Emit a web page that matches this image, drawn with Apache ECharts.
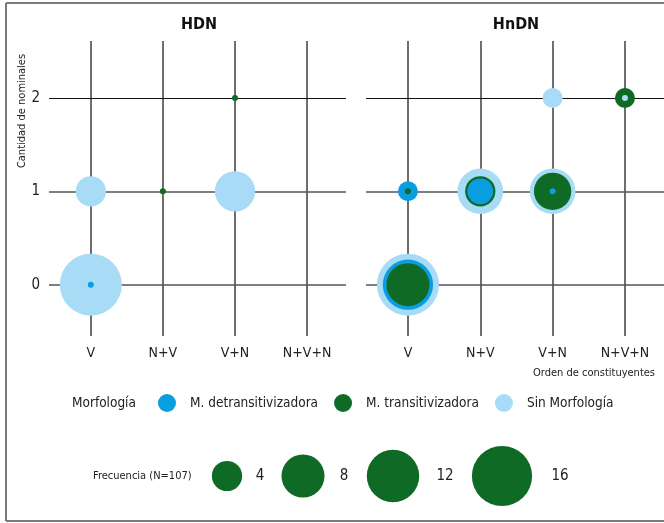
<!DOCTYPE html>
<html>
<head>
<meta charset="utf-8">
<script src="https://cdn.jsdelivr.net/npm/echarts@6/dist/echarts.min.js"></script>
<style>
html, body { margin: 0; padding: 0; background: #fff; }
#main { width: 664px; height: 523px; }
</style>
</head>
<body>
<div id="main"></div>
<script>
// categorias y datos
var categories = ['V', 'N+V', 'V+N', 'N+V+N'];
var yTicks = [0, 1, 2];
var panels = ['HDN', 'HnDN'];
var morphNames = ['M. detransitivizadora', 'M. transitivizadora', 'Sin Morfología'];
// [orden, cantidad de nominales, frecuencia]
var hdnDetrans = [[0, 0, 1]];
var hdnTrans = [[1, 1, 1], [2, 2, 1]];
var hdnSin = [[0, 0, 17], [0, 1, 4], [2, 1, 7]];
var hndnDetrans = [[0, 0, 11], [0, 1, 2], [1, 1, 3], [2, 1, 1]];
var hndnTrans = [[0, 0, 8], [0, 1, 1], [1, 1, 4], [2, 1, 6], [3, 2, 2]];
var hndnSin = [[0, 0, 17], [1, 1, 9], [2, 1, 9], [2, 2, 2], [3, 2, 1]];
var sizeLegend = [4, 8, 12, 16];
var totalN = 107;

var FONT = "'Liberation Sans Narrow', 'DejaVu Sans Condensed', 'Roboto', sans-serif";
var colors = ['#0a9ee0', '#0e6a24', '#a7dbf6'];
var TXT = '#222';

function bubble(v) {
    return 6 + 56 * Math.sqrt(Math.max(v - 1, 0) / 16);
}

// junta las tres morfologias y ordena de mayor a menor (los chicos quedan arriba)
function buildData(groups) {
    var out = [];
    groups.forEach(function (g, k) {
        g.forEach(function (d) {
            out.push({ value: d, itemStyle: { color: colors[k], opacity: 1 } });
        });
    });
    out.sort(function (a, b) { return b.value[2] - a.value[2]; });
    return out;
}

var chart = echarts.init(document.getElementById('main'));

var grids = [
    { left: 49, top: 41, width: 297, height: 295 },
    { left: 366, top: 41, width: 298, height: 295 }
];

var xAxes = [0, 1].map(function (i) {
    return {
        type: 'value', gridIndex: i, min: -0.58, max: 3.54,
        axisLine: { show: false }, axisTick: { show: false }, splitLine: { show: false },
        axisLabel: {
            margin: 10, fontSize: 14, color: TXT, fontFamily: FONT,
            showMinLabel: false, showMaxLabel: false,
            formatter: function (v) { return Number.isInteger(v) && categories[v] ? categories[v] : ''; }
        }
    };
});
var yAxes = [0, 1].map(function (i) {
    return {
        type: 'value', gridIndex: i, min: -0.55, max: 2.61,
        axisLine: { show: false }, axisTick: { show: false }, splitLine: { show: false },
        axisLabel: {
            show: i === 0, margin: 9, fontSize: 15, color: TXT, fontFamily: FONT,
            showMinLabel: false, showMaxLabel: false,
            formatter: function (v) { return yTicks.indexOf(v) >= 0 ? String(v) : ''; }
        }
    };
});

var series = [];
[0, 1].forEach(function (i) {
    series.push({
        type: 'scatter', xAxisIndex: i, yAxisIndex: i, data: [], silent: true, z: 1,
        markLine: {
            z: 1, silent: true, symbol: 'none', label: { show: false },
            data: categories.map(function (c, k) {
                return { xAxis: k, lineStyle: { color: '#6e6e6e', width: 2, type: 'solid' } };
            }).concat(yTicks.map(function (t) {
                return { yAxis: t, lineStyle: { color: t === 2 ? '#111' : '#555', width: t === 2 ? 1.2 : 1.6, type: 'solid' } };
            }))
        }
    });
});
series.push({
    type: 'scatter', xAxisIndex: 0, yAxisIndex: 0, z: 6,
    symbolSize: function (v) { return bubble(v[2]); },
    data: buildData([hdnDetrans, hdnTrans, hdnSin])
});
series.push({
    type: 'scatter', xAxisIndex: 1, yAxisIndex: 1, z: 6,
    symbolSize: function (v) { return bubble(v[2]); },
    data: buildData([hndnDetrans, hndnTrans, hndnSin])
});
// series vacias solo para la leyenda
morphNames.forEach(function (n, k) {
    series.push({ type: 'scatter', name: n, xAxisIndex: 0, yAxisIndex: 0, data: [], itemStyle: { color: colors[k], opacity: 1 } });
});

// leyenda de tamaños
var sizeCenters = [227, 303, 393, 502];
var sizeLabelX = [260, 344, 445, 560];
var graphics = [
    { type: 'line', shape: { x1: 6, y1: 3, x2: 664, y2: 3 }, style: { stroke: '#7a7a7a', lineWidth: 2 } },
    { type: 'line', shape: { x1: 6, y1: 3, x2: 6, y2: 521 }, style: { stroke: '#7a7a7a', lineWidth: 2 } },
    { type: 'line', shape: { x1: 6, y1: 521, x2: 664, y2: 521 }, style: { stroke: '#7a7a7a', lineWidth: 2 } },
    { type: 'text', x: 199, y: 25, style: { text: panels[0], font: 'bold 16px ' + FONT, fill: '#111', align: 'center', verticalAlign: 'middle' } },
    { type: 'text', x: 516, y: 25, style: { text: panels[1], font: 'bold 16px ' + FONT, fill: '#111', align: 'center', verticalAlign: 'middle' } },
    { type: 'text', x: 22, y: 111, rotation: Math.PI / 2, style: { text: 'Cantidad de nominales', font: '11px ' + FONT, fill: TXT, align: 'center', verticalAlign: 'middle' } },
    { type: 'text', x: 594, y: 373, style: { text: 'Orden de constituyentes', font: '11px ' + FONT, fill: TXT, align: 'center', verticalAlign: 'middle' } },
    { type: 'text', x: 72, y: 403, style: { text: 'Morfología', font: '13.5px ' + FONT, fill: TXT, align: 'left', verticalAlign: 'middle' } },
    { type: 'text', x: 93, y: 476, style: { text: 'Frecuencia (N=' + totalN + ')', font: '11px ' + FONT, fill: TXT, align: 'left', verticalAlign: 'middle' } }
];
sizeLegend.forEach(function (v, k) {
    var r = bubble(v) / 2;
    graphics.push({ type: 'circle', shape: { cx: sizeCenters[k], cy: 476, r: r }, style: { fill: colors[1] } });
    graphics.push({ type: 'text', x: sizeLabelX[k], y: 476, style: { text: String(v), font: '15px ' + FONT, fill: TXT, align: 'center', verticalAlign: 'middle' } });
});

var option = {
    animation: false,
    grid: grids,
    xAxis: xAxes,
    yAxis: yAxes,
    legend: {
        data: morphNames, left: 158, top: 394, padding: 0, icon: 'circle',
        itemWidth: 18, itemHeight: 18, itemGap: 16,
        textStyle: { fontSize: 13.5, color: TXT, fontFamily: FONT, padding: [0, 0, 0, 9] }
    },
    graphic: graphics,
    series: series
};
option && chart.setOption(option);
</script>
</body>
</html>
